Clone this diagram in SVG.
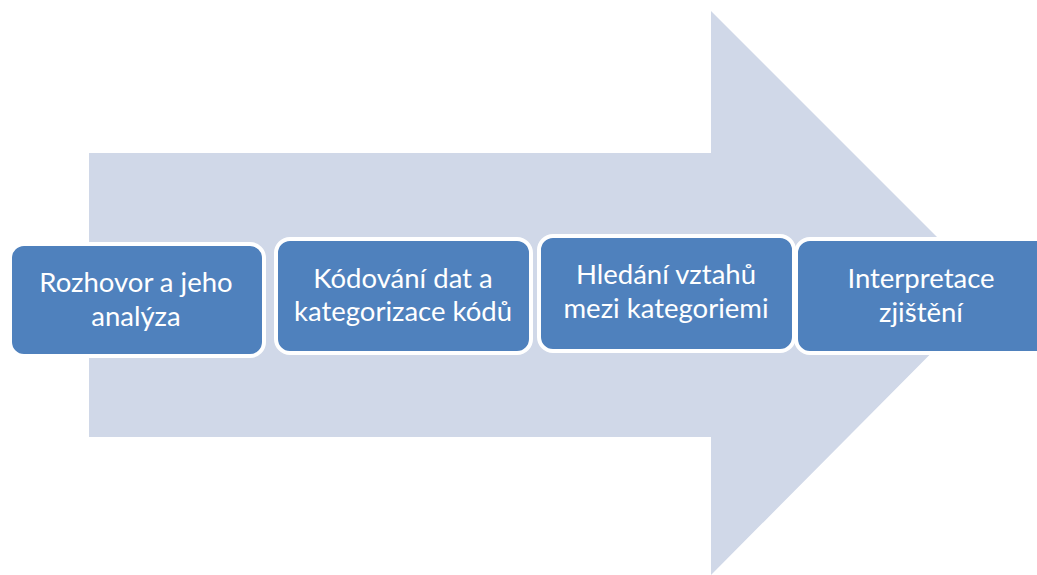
<svg xmlns="http://www.w3.org/2000/svg" width="1037" height="575" viewBox="0 0 1037 575">
<style>
.box{fill:#4F81BD;stroke:#FFFFFF;stroke-width:4}
.t{font-family:Lato,"Open Sans",sans-serif;font-size:27.5px;fill:#FFFFFF;text-anchor:middle}
</style>
<rect width="1037" height="575" fill="#FFFFFF"/>
<g id="arrow">
<polygon points="89,153 711,153 711,11 992,292 711,575 711,437 89,437" fill="#D0D8E8"/>
</g>
<g id="connectors"></g>
<g id="n1">
<rect class="box" x="10" y="244" width="254" height="112" rx="14"/>
<text class="t" x="136" y="292">Rozhovor a jeho</text>
<text class="t" x="136" y="326">analýza</text>
</g>
<g id="n2">
<rect class="box" x="276" y="239" width="255" height="114" rx="14"/>
<text class="t" x="403" y="288">Kódování dat a</text>
<text class="t" x="403" y="321">kategorizace kódů</text>
</g>
<g id="n3">
<rect class="box" x="539" y="236" width="255" height="115" rx="14"/>
<text class="t" x="666" y="284">Hledání vztahů</text>
<text class="t" x="666" y="318">mezi kategoriemi</text>
</g>
<g id="n4">
<rect class="box" x="796" y="239" width="260" height="114" rx="14"/>
<text class="t" x="921" y="288">Interpretace</text>
<text class="t" x="921" y="322">zjištění</text>
</g>
</svg>
